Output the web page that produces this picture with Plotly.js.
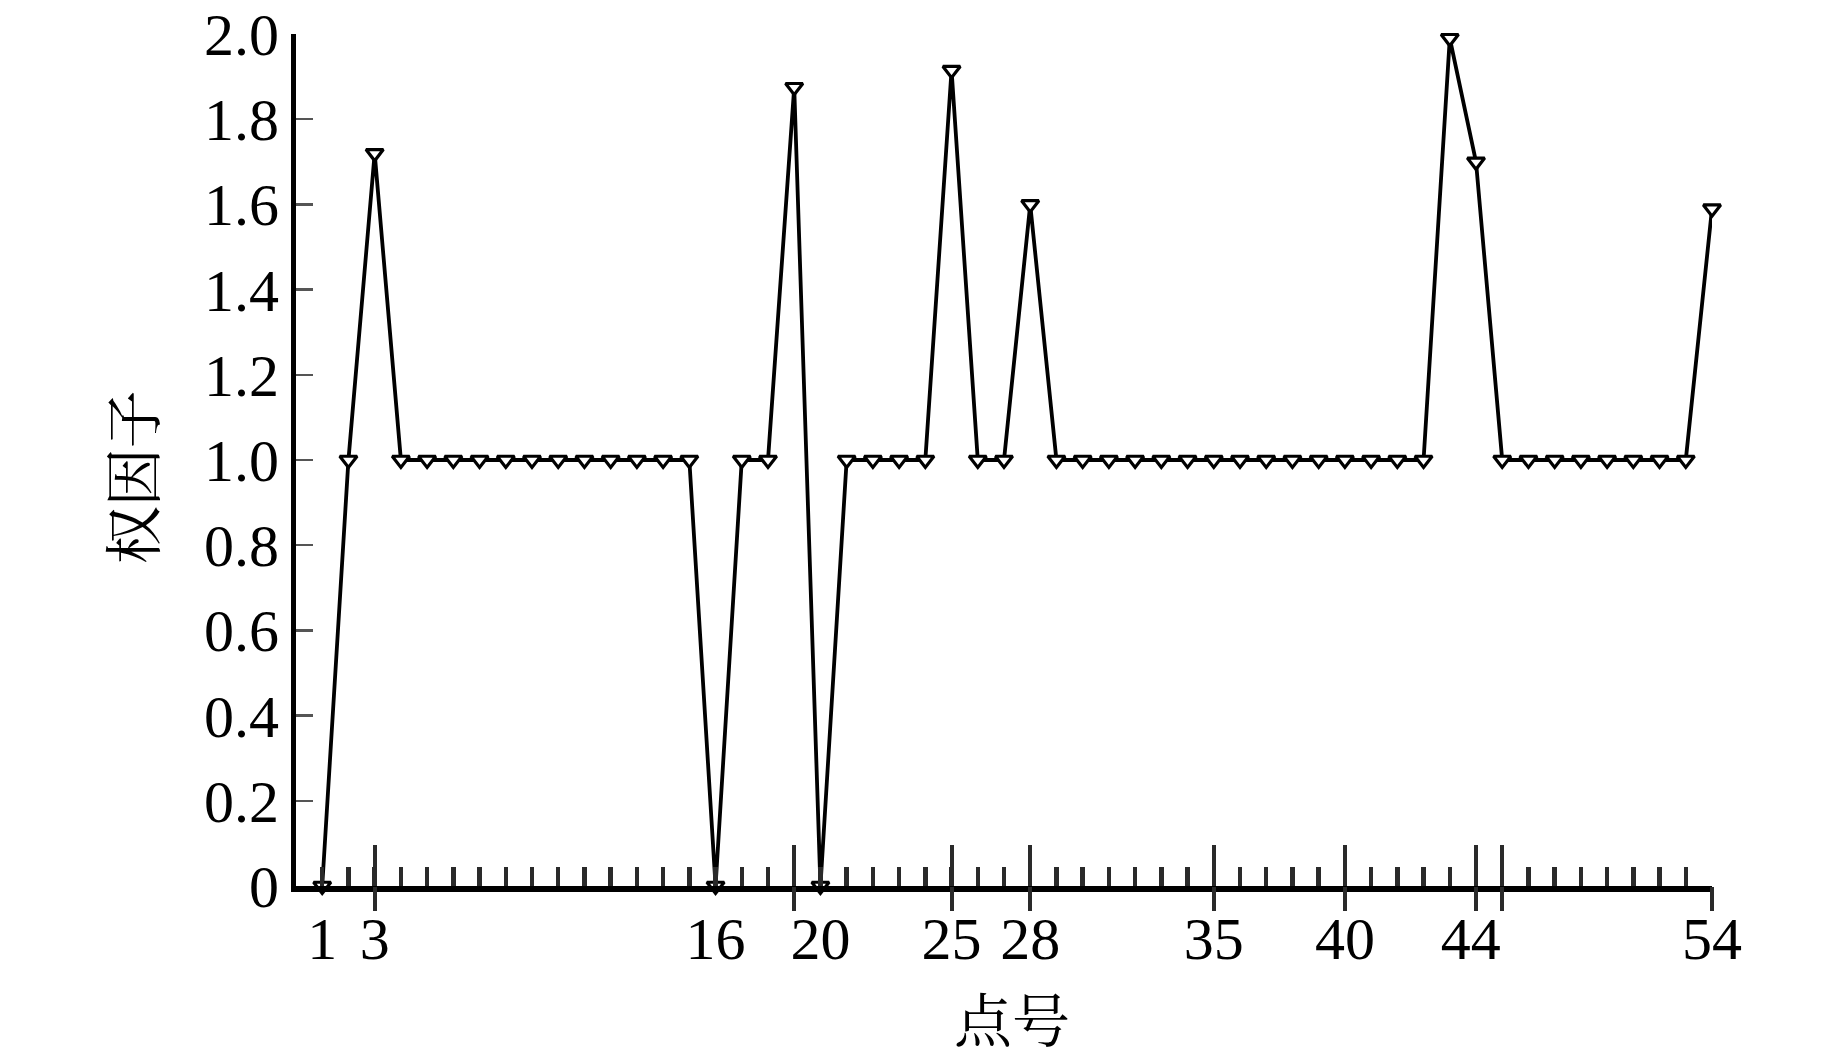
<!DOCTYPE html>
<html><head><meta charset="utf-8">
<script src="https://cdn.plot.ly/plotly-3.0.1.min.js"></script>
<style>html,body{margin:0;padding:0;background:#fff}</style>
</head><body>
<div id="chart" style="width:1843px;height:1063px"></div>
<script>
// ---- data ----
const pointNo = [1,2,3,4,5,6,7,8,9,10,11,12,13,14,15,16,17,18,19,20,21,22,23,24,25,26,27,28,29,30,31,32,33,34,35,36,37,38,39,40,41,42,43,44,45,46,47,48,49,50,51,52,53,54];
const weightFactor = [0,1,1.72,1,1,1,1,1,1,1,1,1,1,1,1,0,1,1,1.875,0,1,1,1,1,1.915,1,1,1.6,1,1,1,1,1,1,1,1,1,1,1,1,1,1,1,1.99,1.70,1,1,1,1,1,1,1,1,1.59];
const majorTickVals = [3,19,25,28,35,40,45,46,54];
const labelTickVals = [1,3,16,20,25,28,35,40,44.8,54];
const labelTickText = ['1','3','16','20','25','28','35','40','44','54'];
const yTickVals = [0,0.2,0.4,0.6,0.8,1.0,1.2,1.4,1.6,1.8,2.0];
const yTickText = ['0','0.2','0.4','0.6','0.8','1.0','1.2','1.4','1.6','1.8','2.0'];
const xTitle = '点号';
const yTitle = '权因子';

const serif = 'Liberation Serif, Times New Roman, serif';
const cjk = 'Noto Serif CJK SC, Noto Sans CJK SC, sans-serif';

const main = {
  x: pointNo, y: weightFactor, type: 'scatter', mode: 'lines+markers',
  line: {color: '#000', width: 3.8},
  marker: {symbol: 'triangle-down', size: 15, color: '#fff', line: {color: '#000', width: 3.2}},
  cliponaxis: false, showlegend: false, hoverinfo: 'x+y'
};
function ghost(ax) {
  return {x: pointNo, y: weightFactor, type: 'scatter', mode: 'none', xaxis: ax, yaxis: 'y', showlegend: false, hoverinfo: 'skip'};
}
const xr = [0, 54];
const layout = {
  width: 1843, height: 1063,
  margin: {l: 296, r: 131, t: 34, b: 177},
  paper_bgcolor: '#fff', plot_bgcolor: '#fff',
  font: {family: serif, color: '#000', size: 60},
  xaxis: {
    range: xr, showgrid: false, zeroline: false,
    showline: true, linecolor: '#000', linewidth: 5.5,
    tickmode: 'array', tickvals: pointNo, ticks: 'inside', ticklen: 19, tickwidth: 4.5, tickcolor: '#2a2a2a',
    showticklabels: false
  },
  xaxis2: {
    overlaying: 'x', anchor: 'y', range: xr, showgrid: false, zeroline: false, showline: false,
    tickmode: 'array', tickvals: majorTickVals, ticks: 'inside', ticklen: 41, tickwidth: 4, tickcolor: '#2a2a2a',
    showticklabels: false
  },
  xaxis3: {
    overlaying: 'x', anchor: 'y', range: xr, showgrid: false, zeroline: false, showline: false,
    tickmode: 'array', tickvals: majorTickVals, ticks: 'outside', ticklen: 24, tickwidth: 4, tickcolor: '#2a2a2a',
    showticklabels: false
  },
  xaxis4: {
    overlaying: 'x', anchor: 'y', range: xr, showgrid: false, zeroline: false, showline: false,
    tickmode: 'array', tickvals: labelTickVals, ticktext: labelTickText, ticks: '',
    showticklabels: true, tickfont: {family: serif, size: 60, color: '#000'}, ticklabelstandoff: 12
  },
  yaxis: {
    range: [0, 2.0], showgrid: false, zeroline: false,
    showline: true, linecolor: '#000', linewidth: 5,
    tickmode: 'array', tickvals: yTickVals, ticktext: yTickText,
    ticks: 'inside', ticklen: 17, tickwidth: 2.5, tickcolor: '#555',
    tickfont: {family: serif, size: 60, color: '#000'}
  },
  annotations: [
    {text: xTitle, xref: 'paper', yref: 'paper', x: 0.506, y: -0.2054, xanchor: 'center', yanchor: 'bottom',
     showarrow: false, font: {family: cjk, size: 58, color: '#000'}},
    {text: yTitle, xref: 'paper', yref: 'paper', x: -0.117, y: 0.48, xanchor: 'center', yanchor: 'middle',
     textangle: -90, showarrow: false, font: {family: cjk, size: 58, color: '#000'}}
  ]
};
Plotly.newPlot('chart', [main, ghost('x2'), ghost('x3'), ghost('x4')], layout, {displayModeBar: false, staticPlot: true});
</script>
</body></html>
